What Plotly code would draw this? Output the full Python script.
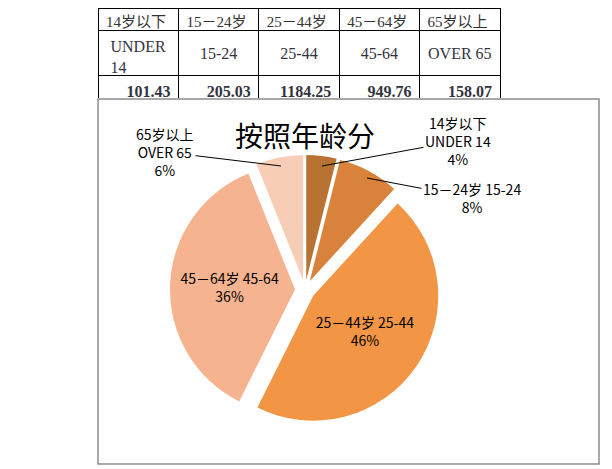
import plotly.graph_objects as go

# age groups, as printed in the table and the chart
age_zh = ["14岁以下", "15－24岁", "25－44岁", "45－64岁", "65岁以上"]
age_en = ["UNDER 14", "15-24", "25-44", "45-64", "OVER 65"]
values = [101.43, 205.03, 1184.25, 949.76, 158.07]
pct_shown = [4, 8, 46, 36, 6]

slice_colors = ["#B87333", "#D9823B", "#F29545", "#F5B38F", "#F8CDB5"]

# table rows
row_en = ["UNDER<br>14"] + ["<br>" + s for s in age_en[1:]]
row_val = [f"<b>{v:.2f}</b>" for v in values]

# the page has an 8px body margin, so the figure is a bit smaller than the window
OFF = 8
W, H = 612 - OFF, 469 - OFF


def px(x):
    return (x - OFF) / W


def py(y):
    return min(1.0, 1 - (y - OFF) / H)


tbl_x = [px(98), px(500)]
serif = "Liberation Serif, Noto Sans CJK SC, serif"

fig = go.Figure()

# first two rows: Chinese group names and English group names
fig.add_trace(go.Table(
    domain=dict(x=tbl_x, y=[py(76), py(8)]),
    header=dict(
        values=age_zh,
        align="left",
        height=22,
        line=dict(color="black", width=1),
        fill=dict(color="white"),
        font=dict(family=serif, size=15, color="#333333"),
    ),
    cells=dict(
        values=[[s] for s in row_en],
        align="center",
        height=46,
        line=dict(color="black", width=1),
        fill=dict(color="white"),
        font=dict(family=serif, size=16, color="#333340"),
    ),
))

# last row: the values, right aligned and bold
fig.add_trace(go.Table(
    domain=dict(x=tbl_x, y=[py(98), py(75)]),
    header=dict(
        values=row_val,
        align="right",
        height=22,
        line=dict(color="black", width=1),
        fill=dict(color="white"),
        font=dict(family=serif, size=16, color="#333340"),
    ),
    cells=dict(values=[[] for _ in values], height=0,
               line=dict(width=0), fill=dict(color="white")),
))

labels = [f"{z}<br>{e}" if i in (0, 4) else f"{z} {e}" for i, (z, e) in enumerate(zip(age_zh, age_en))]
texts = [f"{lab}<br>{p}%" for lab, p in zip(labels, pct_shown)]

fig.add_trace(go.Pie(
    labels=age_zh,
    values=values,
    text=texts,
    textinfo="text",
    textposition=["none", "none", "inside", "inside", "none"],
    insidetextorientation="horizontal",
    sort=False,
    direction="clockwise",
    rotation=0,
    pull=[0.08, 0.08, 0.08, 0.08, 0.08],
    marker=dict(colors=slice_colors, line=dict(color="white", width=0)),
    textfont=dict(family="Noto Sans CJK SC, sans-serif", size=14, color="black"),
    domain=dict(x=[px(170), px(440)], y=[py(425), py(155)]),
    showlegend=False,
    hoverinfo="label+value+percent",
))

# labels of the small slices, placed outside with leader lines
# (tip = point on the slice, txt = label centre, both in reference pixels)
callouts = [
    (0, (322, 166), (458, 141)),
    (1, (367, 178), (472, 198)),
    (4, (281, 166), (165, 152)),
]
annotations = []
for i, (tx, ty), (lx, ly) in callouts:
    annotations.append(dict(
        x=px(tx), y=py(ty), xref="paper", yref="paper",
        ax=lx - tx, ay=ly - ty, axref="pixel", ayref="pixel",
        text=texts[i], showarrow=True, arrowhead=0, arrowwidth=1,
        arrowcolor="black", align="center",
        font=dict(family="Noto Sans CJK SC, sans-serif", size=14, color="black"),
    ))

fig.update_layout(
    width=W,
    height=H,
    margin=dict(l=0, r=0, t=0, b=0),
    paper_bgcolor="white",
    title=dict(
        text="按照年龄分",
        x=px(305), xanchor="center",
        y=py(137), yanchor="middle",
        font=dict(family="Noto Sans CJK SC, sans-serif", size=28, color="black"),
    ),
    annotations=annotations,
    shapes=[dict(
        type="rect", xref="paper", yref="paper",
        x0=px(98), x1=px(599), y0=py(464), y1=py(99),
        line=dict(color="#8C8C8C", width=1.5),
    )],
)

fig.write_html("out.html")
